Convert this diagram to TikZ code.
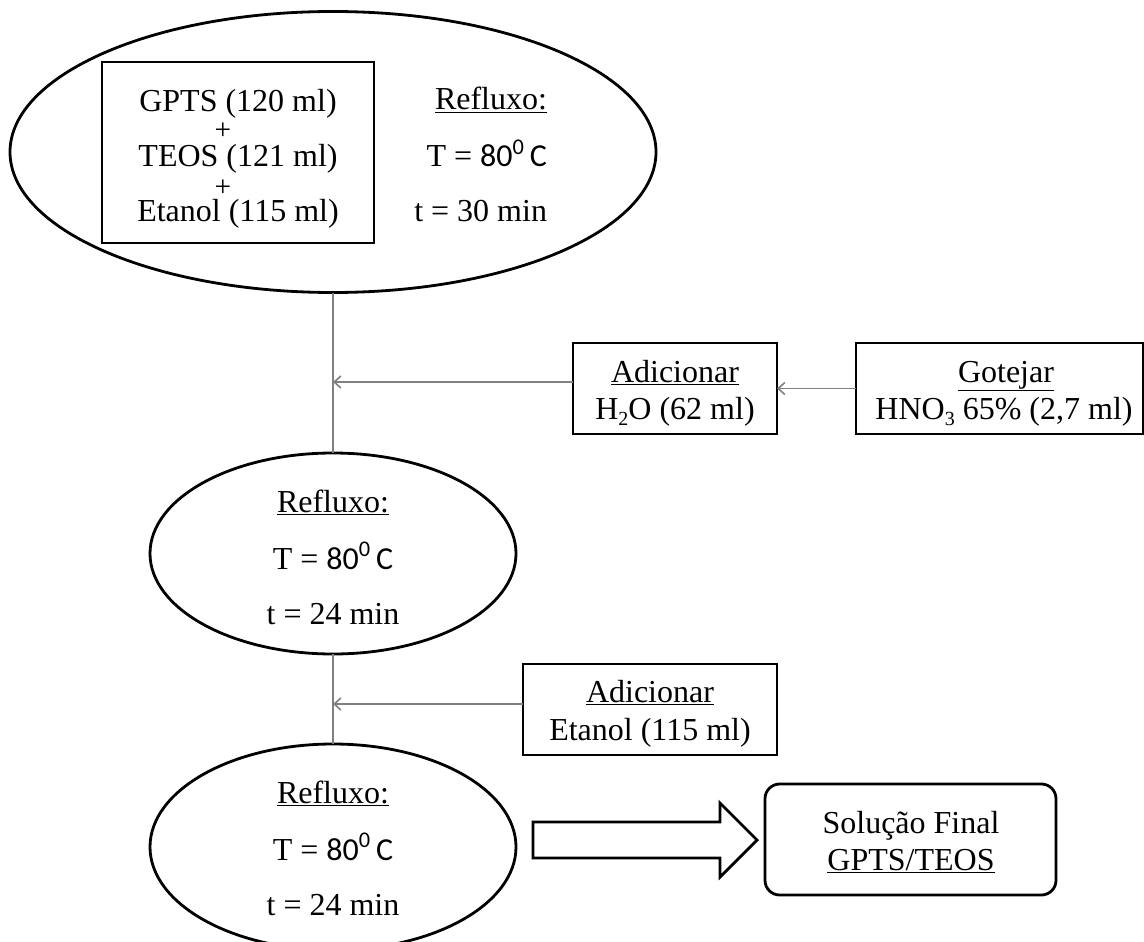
\documentclass[tikz,border=0pt]{standalone}
\usepackage{fontspec}
\setmainfont{Liberation Serif}
\newfontfamily\calib{Carlito}
\usetikzlibrary{arrows.meta,shapes.geometric}
\definecolor{conngray}{RGB}{128,128,128}
\newcommand{\degC}{{\calib 80\textsuperscript{0}\,C}}
\newcommand{\lowsub}[1]{\raisebox{-0.45ex}{\fontsize{15}{15}\selectfont #1}}
\begin{document}
\begin{tikzpicture}[x=0.75pt,y=-0.75pt,
  every node/.style={inner sep=0pt, outer sep=0pt},
  txt/.style={font=\fontsize{24}{28}\selectfont, anchor=base},
  plus/.style={font=\fontsize{22}{24}\selectfont, anchor=center},
  shapeline/.style={draw=black, line width=2.1pt},
  ell/.style={shapeline, ellipse},
  box/.style={shapeline, rectangle},
  conn/.style={draw=conngray, line width=1.4pt},
  arr/.style={conn, -{Straight Barb[length=5pt,width=9pt,line width=1.2pt]}}
]
\useasboundingbox (0,0) rectangle (1144,941);
\clip (0,0) rectangle (1144,941);

% shapes
\node[ell, minimum width=484.5pt, minimum height=210.75pt] (e1) at (333,152) {};
\node[box, minimum width=204pt, minimum height=135.75pt] (mix) at (238,152.5) {};
\node[ell, minimum width=274.5pt, minimum height=150.75pt] (e2) at (333,553.5) {};
\node[ell, minimum width=274.5pt, minimum height=154.5pt] (e3) at (333,847) {};
\node[box, minimum width=153pt, minimum height=68.25pt] (adic1) at (675,388.5) {};
\node[box, minimum width=215.25pt, minimum height=68.25pt] (got) at (999.5,388.5) {};
\node[box, minimum width=190.5pt, minimum height=68.25pt] (adic2) at (650,709.5) {};
\node[shapeline, rectangle, rounded corners=11pt, minimum width=218.25pt, minimum height=83.25pt] (final) at (910.5,839.5) {};

% texts in top ellipse
\node[txt] (t1) at (238,112) {GPTS (120 ml)};
\node[plus] (p1) at (223,131) {+};
\node[txt] (t2) at (238,167) {TEOS (121 ml)};
\node[plus] (p2) at (223,188) {+};
\node[txt] (t3) at (238,222) {Etanol (115 ml)};
\node[txt, anchor=base east] (r1) at (547,110) {\underline{Refluxo:}};
\node[txt, anchor=base east] (r2) at (547,167) {T = \degC};
\node[txt, anchor=base east] (r3) at (547,222) {t = 30 min};

% texts in second ellipse
\node[txt] (s1) at (333,512) {\underline{Refluxo:}};
\node[txt] (s2) at (333,569) {T = \degC};
\node[txt] (s3) at (333,624) {t = 24 min};

% texts in third ellipse
\node[txt] (u1) at (333,803) {\underline{Refluxo:}};
\node[txt] (u2) at (333,860) {T = \degC};
\node[txt] (u3) at (333,915) {t = 24 min};

% box texts
\node[txt] (a1) at (675,382) {\underline{Adicionar}};
\node[txt] (a2) at (675,419) {H\lowsub{2}O (62 ml)};
\node[txt] (g1) at (1006,382) {\underline{Gotejar}};
\node[txt] (g2) at (1004,419) {HNO\lowsub{3} 65\% (2,7 ml)};
\node[txt] (b1) at (650,702) {\underline{Adicionar}};
\node[txt] (b2) at (650,740) {Etanol (115 ml)};
\node[txt] (f1) at (911,833) {Solução Final};
\node[txt] (f2) at (911,870) {\underline{GPTS/TEOS}};

% connectors
\coordinate (j1) at (333,382);
\coordinate (j2) at (333,704);
\draw[conn] (e1.south) -- (e2.north);
\draw[arr] (adic1.west |- j1) -- (j1);
\draw[arr] (got.west) -- (adic1.east);
\draw[conn] (e2.south) -- (e3.north);
\draw[arr] (adic2.west |- j2) -- (j2);

% block arrow
\draw[shapeline, line join=miter] (533,822) -- (720,822) -- (720,803) -- (757,840)
  -- (720,877) -- (720,858) -- (533,858) -- cycle;
\end{tikzpicture}
\end{document}
